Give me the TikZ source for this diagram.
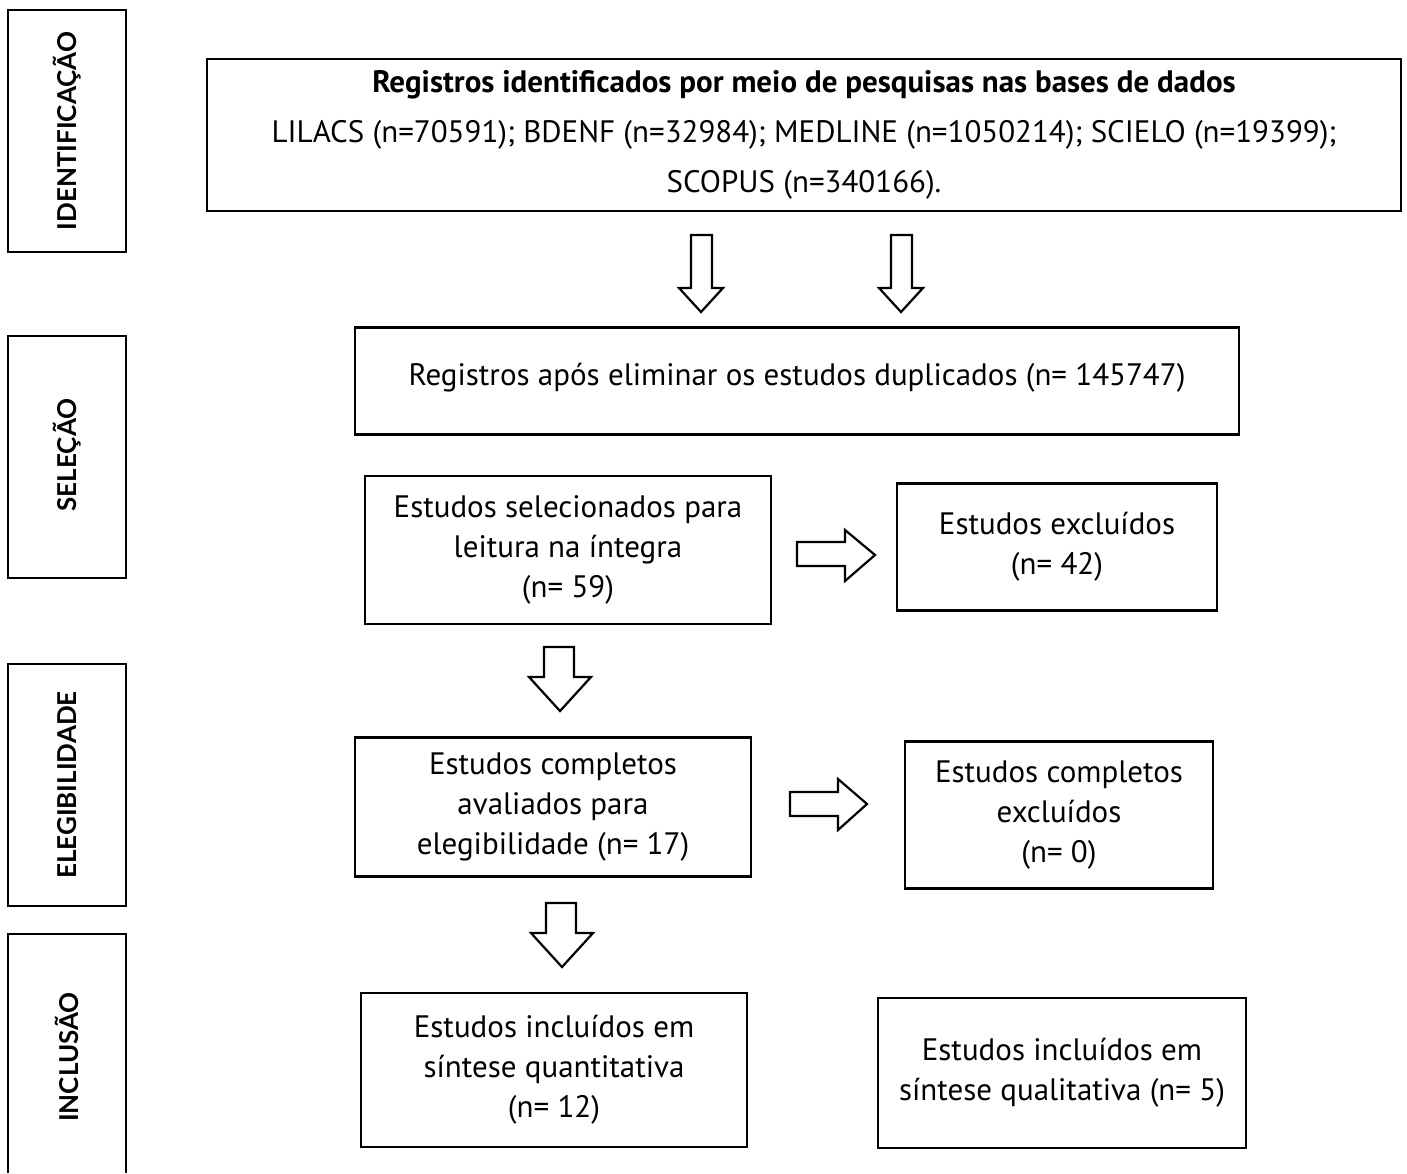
\documentclass[tikz,border=0pt]{standalone}
\usepackage{fontspec}
\setmainfont{PT Sans}
\newfontfamily\labfont{Lato}
\begin{document}
\begin{tikzpicture}[x=0.5pt,y=-0.5pt,
  box/.style={draw,line width=1.3pt,inner sep=0pt,align=center,font=\fontsize{15.5}{20}\selectfont},
  lab/.style={draw,line width=1.3pt,inner sep=0pt},
  labtxt/.style={rotate=90,font=\labfont\bfseries\fontsize{13}{16}\selectfont},
  arr/.style={draw,line width=1.1pt,fill=white}]
\useasboundingbox (0,0) rectangle (1407,1173);
% stage labels
\draw[lab] (8,1173) -- (8,934) -- (126,934) -- (126,1173);
\node[lab,minimum width=59pt,minimum height=121pt] (idb) at (67,131) {};
\node[lab,minimum width=59pt,minimum height=121pt] (seb) at (67,457) {};
\node[lab,minimum width=59pt,minimum height=121pt] (elb) at (67,785) {};
\node[labtxt] (idt) at (67,131) {IDENTIFICAÇÃO};
\node[labtxt] (set) at (67,455) {SELEÇÃO};
\node[labtxt] (elt) at (67,785) {ELEGIBILIDADE};
\node[labtxt] (int) at (67,1057) {INCLUSÃO};
% boxes
\node[box,minimum width=597pt,minimum height=76pt] (b1) at (804,135)
  {\textbf{Registros identificados por meio de pesquisas nas bases de dados}\\[5pt]
   LILACS (n=70591); BDENF (n=32984); MEDLINE (n=1050214); SCIELO (n=19399);\\[5pt]
   SCOPUS (n=340166).};
\node[box,minimum width=442pt,minimum height=53.5pt,text depth=7pt] (b2) at (797,381)
  {Registros após eliminar os estudos duplicados (n= 145747)};
\node[box,minimum width=203pt,minimum height=74pt] (b3) at (568,550)
  {Estudos selecionados para\\leitura na íntegra\\(n= 59)};
\node[box,minimum width=160pt,minimum height=63.5pt] (b4) at (1057,547)
  {Estudos excluídos\\(n= 42)};
\node[box,minimum width=198pt,minimum height=69.5pt] (b5) at (553,807)
  {Estudos completos\\avaliados para\\elegibilidade (n= 17)};
\node[box,minimum width=154pt,minimum height=73.5pt] (b6) at (1059,815)
  {Estudos completos\\excluídos\\(n= 0)};
\node[box,minimum width=193pt,minimum height=77pt] (b7) at (554,1070)
  {Estudos incluídos em\\síntese quantitativa\\(n= 12)};
\node[box,minimum width=184pt,minimum height=75pt] (b8) at (1062,1073)
  {Estudos incluídos em\\síntese qualitativa (n= 5)};
% block arrows
\draw[arr] (691,235) -- (712,235) -- (712,288) -- (723,288) -- (701,312) -- (679,288) -- (691,288) -- cycle;
\draw[arr] (891,235) -- (912,235) -- (912,288) -- (923,288) -- (901,312) -- (879,288) -- (891,288) -- cycle;
\draw[arr] (544,647) -- (574,647) -- (574,677) -- (591,677) -- (560,711) -- (529,677) -- (544,677) -- cycle;
\draw[arr] (546,903) -- (576,903) -- (576,933) -- (593,933) -- (562,967) -- (531,933) -- (546,933) -- cycle;
\draw[arr] (797,542) -- (845,542) -- (845,530) -- (875,555) -- (845,581) -- (845,566) -- (797,566) -- cycle;
\draw[arr] (790,792) -- (838,792) -- (838,779) -- (867,804) -- (838,830) -- (838,816) -- (790,816) -- cycle;
\end{tikzpicture}
\end{document}
